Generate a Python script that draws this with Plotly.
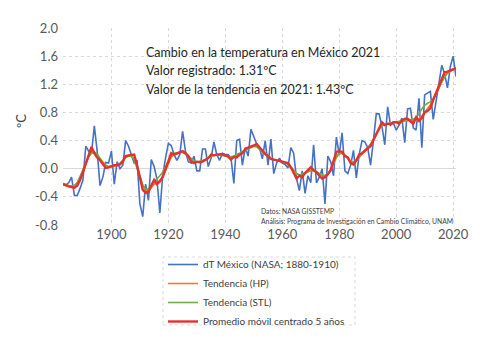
import plotly.graph_objects as go

# ---------------- data ----------------
years = list(range(1883, 2022))

dT_mexico = [
    -0.21, -0.23, -0.20, -0.12, -0.38, -0.38, -0.28,                  # 1883-1889
    -0.16, 0.32, 0.25, 0.22, 0.61, 0.25, -0.24, -0.12, 0.09, 0.08,    # 1890s
    0.25, -0.22, 0.10, 0.00, 0.05, 0.40, 0.32, 0.20, 0.08, 0.12,      # 1900s
    -0.50, -0.68, -0.22, -0.45, 0.13, 0.03, -0.15, -0.63, -0.10, 0.15,  # 1910s
    0.36, 0.33, 0.20, 0.12, 0.20, 0.53, 0.25, 0.10, 0.08, 0.18,       # 1920s
    -0.03, -0.03, 0.28, 0.28, 0.03, 0.15, 0.38, 0.20, 0.12, 0.22,     # 1930s
    0.20, 0.20, 0.15, -0.21, 0.40, 0.42, 0.05, 0.30, 0.18, 0.56,      # 1940s
    0.45, 0.35, 0.30, 0.14, 0.40, 0.05, 0.42, -0.07, 0.08, 0.15,      # 1950s
    0.08, 0.06, 0.01, 0.30, 0.22, -0.14, -0.31, -0.03, -0.35, -0.10,  # 1960s
    -0.20, 0.34, -0.20, -0.12, 0.00, -0.50, 0.18, 0.10, -0.10, 0.45,  # 1970s
    0.20, 0.51, -0.03, -0.07, 0.05, 0.26, -0.13, 0.20, 0.40, 0.38,    # 1980s
    0.30, 0.05, 0.40, 0.78, 0.78, 0.60, 0.34, 0.88, 0.62, 0.65,       # 1990s
    0.55, 0.62, 0.72, 0.37, 0.85, 0.86, 0.58, 0.55, 1.00, 0.30,       # 2000s
    1.05, 1.08, 1.10, 0.70, 0.95, 1.25, 1.47, 1.35, 1.15, 1.45,       # 2010s
    1.60, 1.31,                                                       # 2020-2021
]

tendencia_hp = [
    -0.23, -0.24, -0.25, -0.25, -0.24, -0.20, -0.12,
    -0.02, 0.08, 0.17, 0.22, 0.22, 0.19, 0.14, 0.09, 0.05, 0.03,
    0.03, 0.04, 0.05, 0.07, 0.11, 0.16, 0.18, 0.18, 0.14, 0.04,
    -0.10, -0.23, -0.30, -0.31, -0.27, -0.22, -0.20, -0.17, -0.11, -0.02,
    0.08, 0.16, 0.20, 0.22, 0.23, 0.23, 0.21, 0.17, 0.13, 0.10,
    0.09, 0.10, 0.11, 0.13, 0.16, 0.18, 0.19, 0.20, 0.20, 0.19,
    0.18, 0.17, 0.16, 0.16, 0.18, 0.20, 0.23, 0.26, 0.29, 0.31,
    0.32, 0.32, 0.30, 0.26, 0.22, 0.18, 0.15, 0.13, 0.12, 0.11,
    0.10, 0.09, 0.07, 0.03, -0.02, -0.07, -0.09, -0.09, -0.07, -0.04,
    -0.02, -0.02, -0.04, -0.07, -0.10, -0.11, -0.08, -0.02, 0.07, 0.16,
    0.21, 0.22, 0.19, 0.15, 0.11, 0.09, 0.11, 0.16, 0.21, 0.25,
    0.29, 0.34, 0.41, 0.49, 0.56, 0.61, 0.63, 0.64, 0.65, 0.66,
    0.66, 0.66, 0.67, 0.68, 0.69, 0.69, 0.68, 0.69, 0.71, 0.75,
    0.80, 0.85, 0.91, 0.98, 1.06, 1.15, 1.24, 1.31, 1.36, 1.39,
    1.41, 1.43,
]

tendencia_stl = [
    -0.21, -0.23, -0.24, -0.25, -0.24, -0.20, -0.12,
    -0.02, 0.08, 0.17, 0.23, 0.24, 0.21, 0.15, 0.09, 0.05, 0.03,
    0.03, 0.04, 0.05, 0.08, 0.12, 0.16, 0.18, 0.18, 0.13, 0.02,
    -0.12, -0.24, -0.29, -0.29, -0.24, -0.18, -0.14, -0.10, -0.05, 0.03,
    0.11, 0.18, 0.22, 0.23, 0.24, 0.24, 0.22, 0.18, 0.14, 0.11,
    0.10, 0.10, 0.11, 0.13, 0.16, 0.18, 0.19, 0.20, 0.20, 0.19,
    0.18, 0.17, 0.17, 0.18, 0.20, 0.22, 0.24, 0.27, 0.29, 0.31,
    0.32, 0.31, 0.28, 0.24, 0.20, 0.17, 0.14, 0.13, 0.12, 0.11,
    0.10, 0.09, 0.06, 0.02, -0.03, -0.07, -0.09, -0.08, -0.06, -0.04,
    -0.03, -0.03, -0.05, -0.07, -0.09, -0.10, -0.07, -0.01, 0.08, 0.17,
    0.22, 0.22, 0.19, 0.14, 0.10, 0.09, 0.12, 0.17, 0.22, 0.26,
    0.30, 0.35, 0.42, 0.50, 0.57, 0.61, 0.63, 0.64, 0.65, 0.66,
    0.66, 0.67, 0.68, 0.69, 0.70, 0.70, 0.70, 0.73, 0.78, 0.85,
    0.90, 0.93, 0.95, 0.99, 1.06, 1.15, 1.24, 1.31, 1.36, 1.39,
    1.41, 1.43,
]

promedio_movil_5 = [
    -0.22, -0.24, -0.25, -0.26, -0.27, -0.24, -0.16,
    -0.05, 0.08, 0.20, 0.31, 0.22, 0.16, 0.12, 0.06, 0.01, 0.02,
    0.04, 0.05, 0.05, 0.06, 0.10, 0.18, 0.19, 0.20, 0.20, 0.05,
    -0.15, -0.30, -0.34, -0.33, -0.24, -0.16, -0.22, -0.18, -0.12, 0.00,
    0.12, 0.22, 0.20, 0.22, 0.24, 0.25, 0.22, 0.18, 0.10, 0.08,
    0.10, 0.09, 0.10, 0.12, 0.15, 0.20, 0.19, 0.20, 0.21, 0.21,
    0.19, 0.17, 0.13, 0.17, 0.16, 0.20, 0.22, 0.28, 0.30, 0.31,
    0.33, 0.35, 0.30, 0.26, 0.21, 0.18, 0.14, 0.13, 0.12, 0.12,
    0.10, 0.10, 0.08, 0.02, -0.06, -0.14, -0.10, -0.12, -0.06, -0.02,
    0.02, -0.02, -0.05, -0.10, -0.14, -0.12, -0.08, -0.02, 0.10, 0.24,
    0.25, 0.24, 0.18, 0.16, 0.08, 0.06, 0.12, 0.20, 0.22, 0.26,
    0.29, 0.32, 0.40, 0.50, 0.58, 0.66, 0.62, 0.64, 0.63, 0.66,
    0.66, 0.64, 0.68, 0.71, 0.71, 0.68, 0.64, 0.73, 0.68, 0.72,
    0.80, 0.82, 0.86, 0.98, 1.08, 1.18, 1.27, 1.37, 1.38, 1.40,
    1.41, 1.43,
]

x_ticks = [1900, 1920, 1940, 1960, 1980, 2000, 2020]
y_ticks = [-0.8, -0.4, 0.0, 0.4, 0.8, 1.2, 1.6, 2.0]
y_tick_text = ["-0.8", "-0.4", "0.0", "0.4", "0.8", "1.2", "1.6", "2.0"]

series_names = [
    "dT México (NASA; 1880-1910)",
    "Tendencia (HP)",
    "Tendencia (STL)",
    "Promedio móvil centrado 5 años",
]
series_colors = ["#4472C4", "#ED7D31", "#70AD47", "#E8302A"]
series_widths = [1.6, 1.6, 1.6, 2.4]

title_lines = [
    "Cambio en la temperatura en México 2021",
    "Valor registrado: 1.31ºC",
    "Valor de la tendencia en 2021: 1.43ºC",
]
source_lines = [
    "Datos: NASA GISSTEMP",
    "Análisis: Programa de Investigación en Cambio Climático, UNAM",
]

# ---------------- figure ----------------
W, H = 480, 350
ML, MR, MT, MB = 63, 24, 28, 125
PW, PH = W - ML - MR, H - MT - MB


def px_x(px):
    return (px - ML) / PW


def px_y(py):
    return (H - MB - py) / PH


FONT = "Lato"

fig = go.Figure()
for ys, name, col, wid in zip(
    [dT_mexico, tendencia_hp, tendencia_stl, promedio_movil_5],
    series_names, series_colors, series_widths,
):
    fig.add_trace(go.Scatter(
        x=years, y=ys, mode="lines", name=name,
        line=dict(color=col, width=wid),
    ))

annotations = []
for i, t in enumerate(title_lines):
    annotations.append(dict(
        text=t, xref="paper", yref="paper", x=px_x(144), y=px_y(52 + i * 18.7),
        xanchor="left", yanchor="middle", showarrow=False,
        font=dict(family=FONT, size=12.5, color="#262626"),
    ))
for i, t in enumerate(source_lines):
    annotations.append(dict(
        text=t, xref="paper", yref="paper", x=px_x(259), y=px_y(211 + i * 10.7),
        xanchor="left", yanchor="middle", showarrow=False,
        font=dict(family=FONT, size=6.8, color="#404040"),
    ))
annotations.append(dict(
    text="ºC", xref="paper", yref="paper", x=px_x(21), y=px_y(121),
    xanchor="center", yanchor="middle", showarrow=False, textangle=-90,
    font=dict(family=FONT, size=13, color="#404040"),
))

fig.update_layout(
    width=W, height=H,
    margin=dict(l=ML, r=MR, t=MT, b=MB, pad=0, autoexpand=False),
    paper_bgcolor="white", plot_bgcolor="white",
    font=dict(family=FONT, color="#595959"),
    showlegend=True,
    legend=dict(
        x=px_x(163), y=px_y(250), xanchor="left", yanchor="top",
        font=dict(family=FONT, size=10, color="#404040"),
        bgcolor="rgba(0,0,0,0)", borderwidth=0,
        tracegroupgap=0, itemwidth=30,
    ),
    annotations=annotations,
    shapes=[dict(
        type="rect", xref="paper", yref="paper",
        x0=px_x(163), x1=px_x(355), y0=px_y(325), y1=px_y(257),
        line=dict(color="#D9D9D9", width=1, dash="dot"),
    )],
    xaxis=dict(
        range=[1883, 2021], tickmode="array", tickvals=x_ticks,
        ticktext=[str(v) for v in x_ticks],
        showgrid=True, gridcolor="#D9D9D9", griddash="dot", gridwidth=1,
        zeroline=False, showline=False, ticks="",
        tickfont=dict(family=FONT, size=13, color="#595959"),
    ),
    yaxis=dict(
        range=[-0.8, 2.0], tickmode="array", tickvals=y_ticks, ticktext=y_tick_text,
        showgrid=True, gridcolor="#D9D9D9", griddash="dot", gridwidth=1,
        zeroline=True, zerolinecolor="#D9D9D9", zerolinewidth=1,
        showline=False, ticks="", ticklabelstandoff=4,
        tickfont=dict(family=FONT, size=13, color="#595959"),
    ),
)

fig.write_html("out.html")
